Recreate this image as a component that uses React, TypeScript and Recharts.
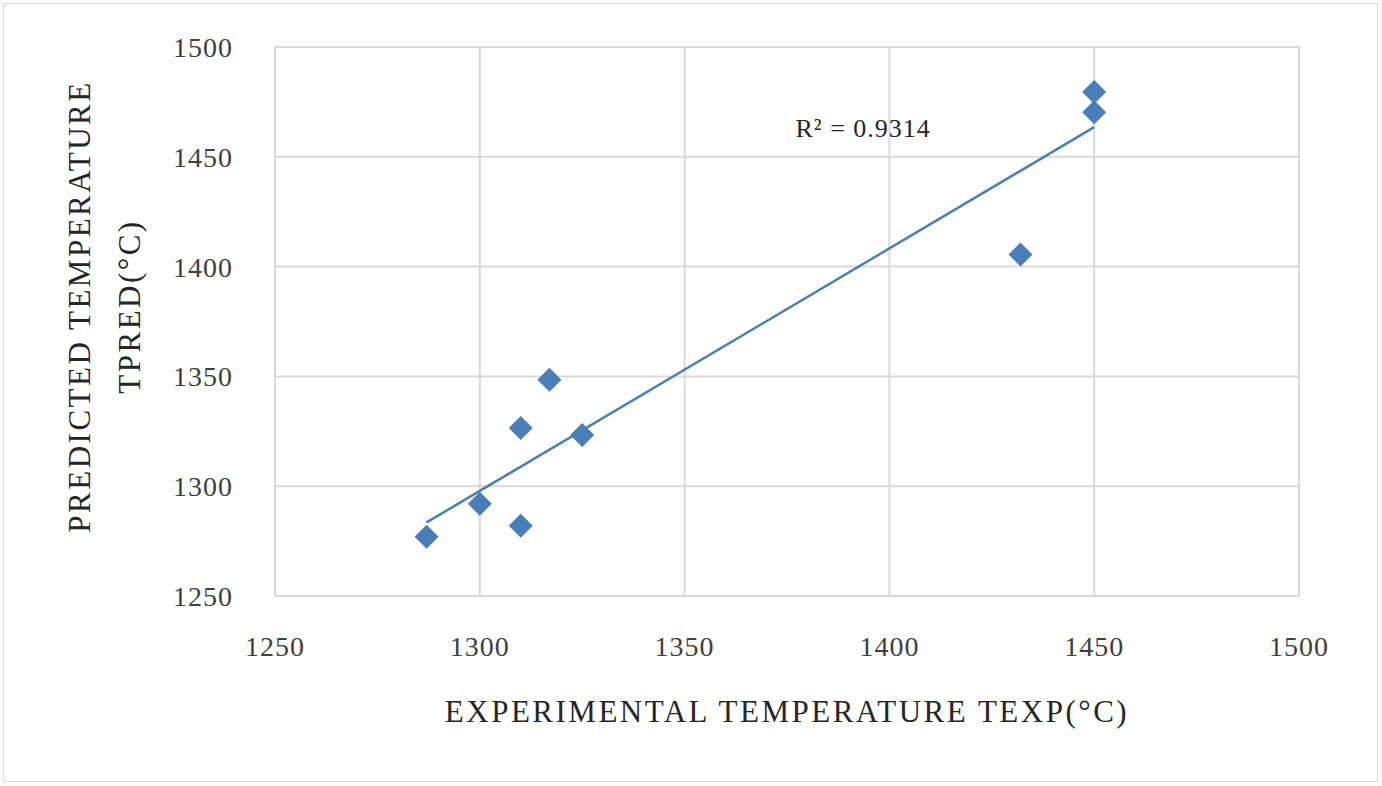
import React from 'react';
import { ScatterChart, Scatter, XAxis, YAxis, CartesianGrid, ReferenceLine, ReferenceDot } from 'recharts';

const texp = [1287, 1300, 1310, 1310, 1317, 1325, 1432, 1450, 1450];
const tpred = [1277, 1292, 1282, 1326.5, 1348.5, 1323.3, 1405.5, 1479.5, 1470.3];
const trendX = [1287, 1450];
const trendY = [1283.5, 1463.5];
const ticks = [1250, 1300, 1350, 1400, 1450, 1500];

const points = texp.map((x, i) => ({ x, y: tpred[i] }));
const font = '"Liberation Serif", "DejaVu Serif", serif';
const blue = '#4A7EBB';

const Diamond = (p: any) => {
  const { cx, cy } = p;
  const r = 12;
  return <polygon points={`${cx},${cy - r} ${cx + r},${cy} ${cx},${cy + r} ${cx - r},${cy}`} fill={blue} />;
};

const YLabel = (p: any) => {
  const vb = p.viewBox;
  const cy = vb.y + vb.height / 2 - 15;
  return (
    <g fontFamily={font} fontSize={31} fill="#262626" letterSpacing={2.5}>
      <text x={90} y={cy} transform={`rotate(-90 90 ${cy})`} textAnchor="middle">PREDICTED TEMPERATURE</text>
      <text x={140} y={cy} transform={`rotate(-90 140 ${cy})`} textAnchor="middle">TPRED(°C)</text>
    </g>
  );
};

export default function App() {
  return (
    <div style={{ position: 'fixed', left: 0, top: 0, width: 1382, height: 786, background: '#fff' }}>
      <div style={{ position: 'absolute', left: 3, top: 3, width: 1373, height: 777, border: '1px solid #d9d9d9' }} />
      <ScatterChart width={1382} height={786} margin={{ top: 47, right: 83, bottom: 0, left: 0 }}>
        <CartesianGrid stroke="#d9d9d9" strokeWidth={2} />
        <XAxis type="number" dataKey="x" domain={[1250, 1500]} ticks={ticks} height={190}
          axisLine={{ stroke: '#d9d9d9', strokeWidth: 2 }} tickLine={false} tickMargin={34}
          tick={{ fontFamily: font, fontSize: 28, fill: '#404040', letterSpacing: 1 }}
          label={{ value: 'EXPERIMENTAL TEMPERATURE TEXP(°C)', position: 'insideBottom', offset: 64, fontFamily: font, fontSize: 31, fill: '#262626', letterSpacing: 2.5 }} />
        <YAxis type="number" dataKey="y" domain={[1250, 1500]} ticks={ticks} width={275}
          axisLine={{ stroke: '#d9d9d9', strokeWidth: 2 }} tickLine={false} tickMargin={36}
          tick={{ fontFamily: font, fontSize: 28, fill: '#404040', letterSpacing: 1 }}
          label={<YLabel />} />
        <ReferenceLine segment={[{ x: trendX[0], y: trendY[0] }, { x: trendX[1], y: trendY[1] }]}
          stroke={blue} strokeWidth={2.5} />
        <Scatter data={points} fill={blue} shape={Diamond} isAnimationActive={false} />
        <ReferenceDot x={1393.6} y={1463} r={0}
          label={{ value: 'R² = 0.9314', position: 'center', fontFamily: font, fontSize: 26, fill: '#262626', letterSpacing: 1 }} />
      </ScatterChart>
    </div>
  );
}
